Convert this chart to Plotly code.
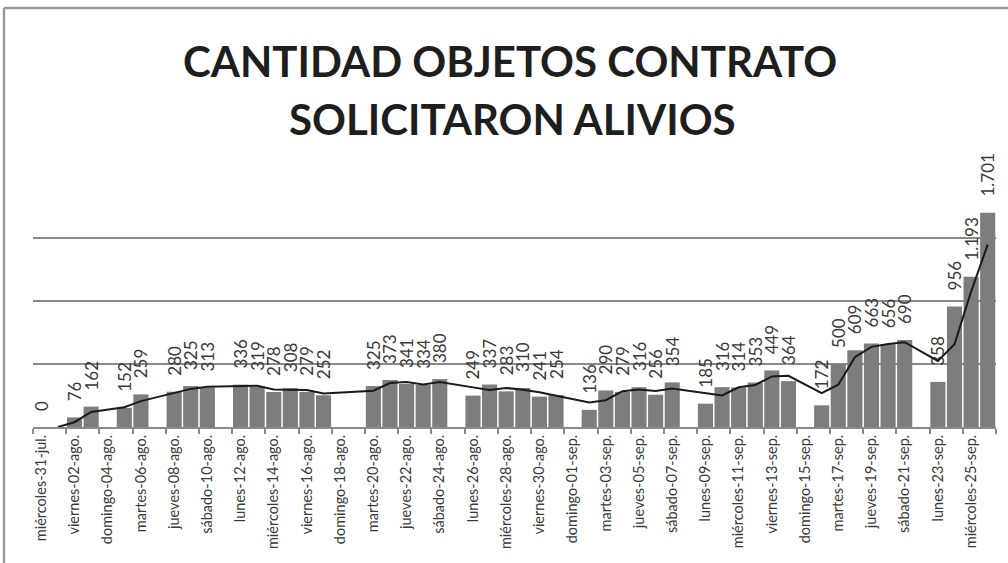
import plotly.graph_objects as go

# ---- data ----
fechas = [
    "miércoles-31-jul.", "jueves-01-ago.", "viernes-02-ago.", "sábado-03-ago.", "domingo-04-ago.",
    "lunes-05-ago.", "martes-06-ago.", "miércoles-07-ago.", "jueves-08-ago.", "viernes-09-ago.",
    "sábado-10-ago.", "domingo-11-ago.", "lunes-12-ago.", "martes-13-ago.", "miércoles-14-ago.",
    "jueves-15-ago.", "viernes-16-ago.", "sábado-17-ago.", "domingo-18-ago.", "lunes-19-ago.",
    "martes-20-ago.", "miércoles-21-ago.", "jueves-22-ago.", "viernes-23-ago.", "sábado-24-ago.",
    "domingo-25-ago.", "lunes-26-ago.", "martes-27-ago.", "miércoles-28-ago.", "jueves-29-ago.",
    "viernes-30-ago.", "sábado-31-ago.", "domingo-01-sep.", "lunes-02-sep.", "martes-03-sep.",
    "miércoles-04-sep.", "jueves-05-sep.", "viernes-06-sep.", "sábado-07-sep.", "domingo-08-sep.",
    "lunes-09-sep.", "martes-10-sep.", "miércoles-11-sep.", "jueves-12-sep.", "viernes-13-sep.",
    "sábado-14-sep.", "domingo-15-sep.", "lunes-16-sep.", "martes-17-sep.", "miércoles-18-sep.",
    "jueves-19-sep.", "viernes-20-sep.", "sábado-21-sep.", "domingo-22-sep.", "lunes-23-sep.",
    "martes-24-sep.", "miércoles-25-sep.", "jueves-26-sep.",
]

objetos = [
    0, None, 76, 162, None, 152, 259, None, 280, 325,
    313, None, 336, 319, 278, 308, 279, 252, None, None,
    325, 373, 341, 334, 380, None, 249, 337, 283, 310,
    241, 254, None, 136, 290, 279, 316, 256, 354, None,
    185, 316, 314, 353, 449, 364, None, 172, 500, 609,
    663, 656, 690, None, 358, 956, 1193, 1701,
]

# moving-average trend line
media_movil = [
    None, 0, 38, 119, None, 157, 205.5, None, 269.5, 302.5,
    319, None, 324.5, 327.5, 298.5, 293, 293.5, 265.5, None, None,
    288.5, 349, 357, 337.5, 357, None, 314.5, 293, 310, 296.5,
    275.5, 247.5, None, 195, 213, 284.5, 297.5, 286, 305, None,
    269.5, 250.5, 315, 333.5, 401, 406.5, None, 268, 336, 554.5,
    636, 659.5, 673, None, 524, 657, 1074.5, 1447,
]

etiquetas_eje = fechas[::2]

# ---- figure ----
idx = list(range(len(fechas)))
NB = "\u00a0"
textos = ["" if v is None else NB * 3 + f"{v:,}".replace(",", ".") for v in objetos]

FONT = "Lato, 'Open Sans', sans-serif"

fig = go.Figure()
fig.add_trace(go.Bar(
    x=idx, y=objetos, text=textos, textposition="outside", textangle=-90,
    constraintext="none",
    textfont=dict(family=FONT, size=17, color="#3a3a3a"),
    marker=dict(color="#7d7d7d", line=dict(width=0)),
    cliponaxis=False, hovertext=fechas, name="Objetos",
))
fig.add_trace(go.Scatter(
    x=idx, y=media_movil, mode="lines", connectgaps=True,
    line=dict(color="#1a1a1a", width=2), hoverinfo="skip", name="Media móvil",
))

L, R, T, B = 33, 12, 175, 136
W, H = 1008, 563
pw, ph = W - L - R, H - T - B

fig.update_layout(
    width=W, height=H, autosize=False,
    margin=dict(l=L, r=R, t=T, b=B, pad=0, autoexpand=False),
    paper_bgcolor="white", plot_bgcolor="white",
    showlegend=False, bargap=0.09,
    xaxis=dict(
        range=[-0.5, len(fechas) - 0.5], automargin=False,
        tickmode="array", tickvals=idx[::2], ticktext=etiquetas_eje,
        tickangle=-90, ticks="", ticklen=0,
        tickfont=dict(family=FONT, size=14.5, color="#3a3a3a"),
        showline=True, linecolor="#8a8a8a", linewidth=2,
        showgrid=False, zeroline=False,
        minor=dict(ticks="outside", tick0=-0.5, dtick=2, ticklen=5,
                   tickcolor="#8a8a8a", tickwidth=1.5, showgrid=False),
    ),
    yaxis=dict(
        range=[0, 2000], dtick=500, showticklabels=False, ticks="",
        showgrid=True, gridcolor="#8a8a8a", gridwidth=2,
        zeroline=False, showline=False, automargin=False,
    ),
)

def px_x(p):
    return (p - L) / pw

def px_y(p):
    return (H - B - p) / ph

fig.add_annotation(
    text="CANTIDAD OBJETOS CONTRATO", xref="paper", yref="paper",
    x=px_x(510), y=px_y(61), showarrow=False, xanchor="center", yanchor="middle",
    font=dict(family=FONT, size=42, color="#1e1e1e", weight="bold"),
)
fig.add_annotation(
    text="SOLICITARON ALIVIOS", xref="paper", yref="paper",
    x=px_x(512), y=px_y(119), showarrow=False, xanchor="center", yanchor="middle",
    font=dict(family=FONT, size=42, color="#1e1e1e", weight="bold"),
)

# outer frame
fig.add_shape(type="line", xref="paper", yref="paper",
              x0=px_x(4), x1=px_x(4), y0=px_y(8), y1=px_y(570),
              line=dict(color="#9a9a9a", width=2.5))
fig.add_shape(type="line", xref="paper", yref="paper",
              x0=px_x(4), x1=px_x(1012), y0=px_y(8), y1=px_y(8),
              line=dict(color="#9a9a9a", width=2.5))

fig.write_html("out.html", config={"displayModeBar": False},
               post_script="document.body.style.margin='0';")
